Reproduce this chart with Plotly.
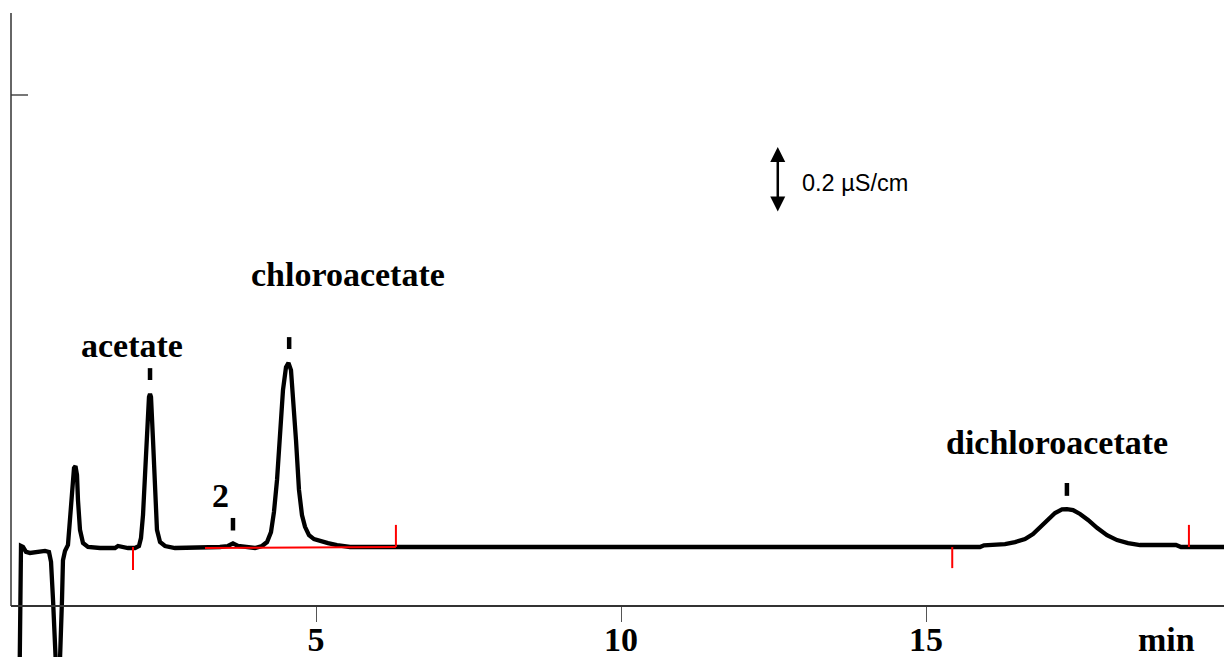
import plotly.graph_objects as go

# ---- data (time in min, signal in µS/cm relative to baseline) ----
time_min = [0.14, 0.164, 0.197, 0.246, 0.311, 0.443, 0.557, 0.623, 0.656, 0.689, 0.721, 0.754, 0.787,
            0.820, 0.836, 0.852, 0.885, 0.934, 0.967, 1.0, 1.033, 1.057, 1.082, 1.098, 1.131, 1.18,
            1.262, 1.459, 1.705, 1.754, 1.836, 1.918, 2.033, 2.098, 2.131, 2.164, 2.197, 2.23, 2.262,
            2.279, 2.295, 2.328, 2.361, 2.393, 2.443, 2.525, 2.689, 3.098, 3.426, 3.557, 3.639, 3.721,
            3.836, 4.0, 4.115, 4.197, 4.262, 4.311, 4.361, 4.41, 4.459, 4.508, 4.549, 4.59, 4.623,
            4.672, 4.721, 4.77, 4.82, 4.885, 4.967, 5.066, 5.197, 5.344, 5.557, 9.656, 15.885, 15.951,
            16.295, 16.459, 16.623, 16.754, 16.869, 17.0, 17.115, 17.23, 17.311, 17.41, 17.525, 17.656,
            17.803, 17.967, 18.131, 18.311, 18.508, 19.098, 19.18, 19.885]
signal = [-0.40, 0.003, 0.0, -0.015, -0.018, -0.015, -0.012, -0.015, -0.045, -0.16, -0.31, -0.43, -0.43,
          -0.28, -0.16, -0.04, -0.012, 0.006, 0.082, 0.188, 0.239, 0.245, 0.218, 0.142, 0.052, 0.012,
          0.0, -0.003, -0.003, 0.003, 0.0, -0.003, -0.003, 0.003, 0.027, 0.097, 0.218, 0.37, 0.455,
          0.464, 0.455, 0.324, 0.158, 0.052, 0.015, 0.003, -0.003, -0.003, 0.0, 0.003, 0.011, 0.003,
          0.0, -0.003, 0.003, 0.015, 0.045, 0.106, 0.203, 0.355, 0.476, 0.545, 0.558, 0.536, 0.461,
          0.324, 0.173, 0.097, 0.061, 0.036, 0.024, 0.018, 0.012, 0.006, 0.0, 0.0, 0.0, 0.005,
          0.009, 0.015, 0.024, 0.039, 0.058, 0.082, 0.103, 0.114, 0.115, 0.112, 0.1, 0.082,
          0.058, 0.036, 0.021, 0.012, 0.006, 0.006, 0.0, 0.0]

# integration marks (red)
mark_times = [2.0, 6.31, 15.43, 19.31]
mark_ends = [-0.07, 0.067, -0.064, 0.067]
baseline_t = [3.18, 6.31]
baseline_y = [-0.003, 0.0]

# peak labels
peak_names = ["acetate", "2", "chloroacetate", "dichloroacetate"]
peak_times = [2.279, 3.639, 4.56, 17.31]
dash_lo = [0.506, 0.05, 0.60, 0.155]
dash_hi = [0.542, 0.088, 0.636, 0.194]
label_x = [1.99, 3.43, 5.52, 17.15]
label_y = [0.612, 0.155, 0.827, 0.318]

x_ticks = [5, 10, 15]
scale_bar = 0.2  # µS/cm

fig = go.Figure()
fig.add_trace(go.Scatter(x=time_min, y=signal, mode="lines",
                         line=dict(color="black", width=4.3), hoverinfo="skip"))

# red integration ticks
rx, ry = [], []
for t, e in zip(mark_times, mark_ends):
    rx += [t, t, None]
    ry += [0.0, e, None]
fig.add_trace(go.Scatter(x=rx, y=ry, mode="lines", line=dict(color="red", width=2)))
fig.add_trace(go.Scatter(x=baseline_t, y=baseline_y, mode="lines", line=dict(color="red", width=2)))

# peak marker dashes
dx, dy = [], []
for t, a, b in zip(peak_times, dash_lo, dash_hi):
    dx += [t, t, None]
    dy += [a, b, None]
fig.add_trace(go.Scatter(x=dx, y=dy, mode="lines", line=dict(color="black", width=4.5)))

# invisible trace on the overlay axis so its ticks render
fig.add_trace(go.Scatter(x=[0], y=[0], xaxis="x2", mode="markers",
                         marker=dict(opacity=0), hoverinfo="skip"))

serif = dict(family="Liberation Serif, Times New Roman, serif", size=34, color="black", weight="bold")
for name, x, y in zip(peak_names, label_x, label_y):
    fig.add_annotation(x=x, y=y, text=name, showarrow=False, font=serif,
                       xanchor="center", yanchor="middle")
fig.add_annotation(x=18.95, y=-0.279, text="min", showarrow=False, font=serif,
                   xanchor="center", yanchor="middle")

# scale bar arrow
fig.add_annotation(x=12.57, y=1.012 + scale_bar, ax=12.57, ay=1.012, axref="x", ayref="y",
                   text="", showarrow=True, arrowhead=2, startarrowhead=2, arrowside="end+start",
                   arrowwidth=2.5, arrowsize=1.2, startarrowsize=1.2, arrowcolor="black",
                   standoff=0, startstandoff=0)
fig.add_annotation(x=12.93, y=1.103, text="0.2 µS/cm", showarrow=False, xanchor="left",
                   yanchor="middle", font=dict(family="Liberation Sans, Arial, sans-serif",
                                               size=23.5, color="black"))

# y axis line (stops at x axis)
fig.add_shape(type="line", xref="paper", yref="paper", x0=0, x1=0, y0=0.0792, y1=1,
              line=dict(color="#333333", width=1.5))

fig.update_layout(
    width=1224, height=657,
    margin=dict(l=11, r=0, t=13, b=0, autoexpand=False),
    plot_bgcolor="white", paper_bgcolor="white",
    showlegend=False,
    xaxis=dict(range=[0, 19.885], anchor="free", position=0.0792, automargin=False,
               showline=True, linecolor="#333333", linewidth=1.5,
               ticks="", tickvals=x_ticks, ticktext=[str(v) for v in x_ticks],
               ticklabelstandoff=3,
               tickfont=serif, showgrid=False, zeroline=False),
    xaxis2=dict(range=[0, 19.885], anchor="free", position=0.0792, overlaying="x",
                side="bottom", automargin=False, showline=False,
                ticks="outside", ticklen=15, tickcolor="#555555", tickwidth=1.2,
                tickvals=x_ticks, showticklabels=False, showgrid=False, zeroline=False),
    yaxis=dict(range=[-0.33333, 1.61818], automargin=False, showline=False, showgrid=False,
               zeroline=False, ticks="inside", ticklen=17, tickcolor="#777777", tickwidth=1.5,
               tickvals=[1.37], showticklabels=False),
)

fig.write_html("out.html", config={"displayModeBar": False},
               post_script="document.body.style.margin='0';document.body.style.overflow='hidden';")
